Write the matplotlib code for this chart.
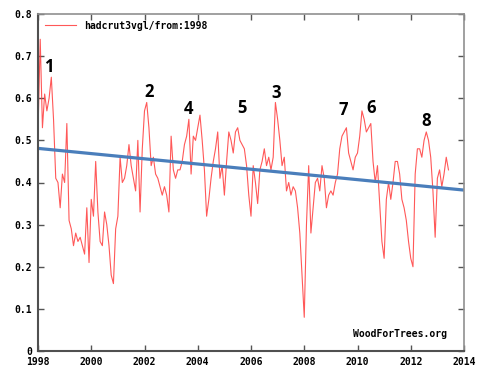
import numpy as np
import matplotlib
matplotlib.use("Agg")
import matplotlib.pyplot as plt

# monthly hadcrut3vgl anomalies, Jan 1998 .. Jun 2013
temps_1998 = [0.52, 0.74, 0.53, 0.61, 0.57, 0.60, 0.65, 0.55, 0.41, 0.40, 0.34, 0.42]
temps_1999 = [0.40, 0.54, 0.31, 0.29, 0.25, 0.28, 0.26, 0.27, 0.25, 0.23, 0.34, 0.21]
temps_2000 = [0.36, 0.32, 0.45, 0.33, 0.26, 0.25, 0.33, 0.30, 0.25, 0.18, 0.16, 0.29]
temps_2001 = [0.32, 0.46, 0.40, 0.41, 0.44, 0.49, 0.44, 0.41, 0.38, 0.50, 0.33, 0.48]
temps_2002 = [0.57, 0.59, 0.53, 0.44, 0.46, 0.42, 0.41, 0.39, 0.37, 0.39, 0.37, 0.33]
temps_2003 = [0.51, 0.43, 0.41, 0.43, 0.43, 0.45, 0.49, 0.51, 0.55, 0.42, 0.51, 0.50]
temps_2004 = [0.53, 0.56, 0.50, 0.43, 0.32, 0.36, 0.41, 0.45, 0.48, 0.52, 0.41, 0.44]
temps_2005 = [0.37, 0.45, 0.52, 0.50, 0.47, 0.52, 0.53, 0.50, 0.49, 0.48, 0.44, 0.37]
temps_2006 = [0.32, 0.44, 0.40, 0.35, 0.43, 0.45, 0.48, 0.44, 0.46, 0.43, 0.46, 0.59]
temps_2007 = [0.55, 0.50, 0.44, 0.46, 0.38, 0.40, 0.37, 0.39, 0.38, 0.34, 0.28, 0.18]
temps_2008 = [0.08, 0.30, 0.44, 0.28, 0.34, 0.40, 0.41, 0.38, 0.44, 0.41, 0.34, 0.37]
temps_2009 = [0.38, 0.37, 0.40, 0.42, 0.48, 0.51, 0.52, 0.53, 0.47, 0.45, 0.43, 0.46]
temps_2010 = [0.47, 0.51, 0.57, 0.55, 0.52, 0.53, 0.54, 0.45, 0.40, 0.44, 0.35, 0.26]
temps_2011 = [0.22, 0.36, 0.40, 0.36, 0.40, 0.45, 0.45, 0.42, 0.36, 0.34, 0.31, 0.26]
temps_2012 = [0.22, 0.20, 0.42, 0.48, 0.48, 0.46, 0.50, 0.52, 0.50, 0.46, 0.38, 0.27]
temps_2013 = [0.41, 0.43, 0.39, 0.42, 0.46, 0.43]

temps = (temps_1998 + temps_1999 + temps_2000 + temps_2001 + temps_2002 + temps_2003
         + temps_2004 + temps_2005 + temps_2006 + temps_2007 + temps_2008 + temps_2009
         + temps_2010 + temps_2011 + temps_2012 + temps_2013)
years = 1998 + np.arange(len(temps)) / 12.0

# linear trend drawn over the top
trend_x = [1998, 2014]
trend_y = [0.481, 0.382]

# peak markers
peak_labels = ["1", "2", "4", "5", "3", "7", "6", "8"]
peak_x = [1998.42, 2002.17, 2003.67, 2005.66, 2006.94, 2009.45, 2010.5, 2012.57]
peak_y = [0.674, 0.615, 0.575, 0.577, 0.612, 0.572, 0.577, 0.546]

x_ticks = list(range(1998, 2015, 2))
y_ticks = [0, 0.1, 0.2, 0.3, 0.4, 0.5, 0.6, 0.7, 0.8]
y_labels = ["0", "0.1", "0.2", "0.3", "0.4", "0.5", "0.6", "0.7", "0.8"]

mono = "DejaVu Sans Mono"

fig = plt.figure(figsize=(5.01, 3.83), dpi=100)
ax = fig.add_axes([38 / 501, 32 / 383, 426 / 501, 337 / 383])

ax.plot(years, temps, color="#ff3b3b", lw=0.8, alpha=0.85, label="hadcrut3vgl/from:1998")
ax.plot(trend_x, trend_y, color="#4a7ebb", lw=2.3, solid_capstyle="butt")

for lab, px, py in zip(peak_labels, peak_x, peak_y):
    ax.text(px, py, lab, ha="center", va="center", fontsize=12, fontweight="bold",
            family="Open Sans", color="black")

ax.set_xlim(1998, 2014)
ax.set_ylim(0, 0.8)
ax.set_xticks(x_ticks)
ax.set_xticklabels([str(t) for t in x_ticks], family=mono, fontweight="bold", fontsize=7)
ax.set_yticks(y_ticks)
ax.set_yticklabels(y_labels, family=mono, fontweight="bold", fontsize=7)
ax.tick_params(direction="in", length=4, width=1, top=True, right=True, pad=4, colors="#555555")
ax.tick_params(labelcolor="black")

for side in ["left", "bottom"]:
    ax.spines[side].set_color("#505050")
    ax.spines[side].set_linewidth(1.5)
for side in ["top", "right"]:
    ax.spines[side].set_color("#909090")
    ax.spines[side].set_linewidth(1.2)

leg = ax.legend(loc="upper left", frameon=False, handlelength=3.2, borderaxespad=0.3,
                prop={"family": mono, "weight": "bold", "size": 7})

ax.text(0.96, 0.05, "WoodForTrees.org", transform=ax.transAxes, ha="right", va="center",
        family=mono, fontweight="bold", fontsize=7, color="black")

fig.savefig("out.png", dpi=100)
